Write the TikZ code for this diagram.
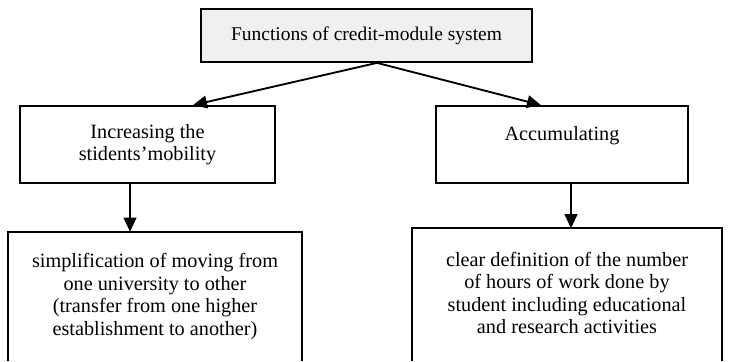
\documentclass[tikz,border=0pt]{standalone}
\usepackage{fontspec}
\setmainfont{Liberation Serif}
\usetikzlibrary{arrows.meta}
\begin{document}
\begin{tikzpicture}[x=0.75pt,y=-0.75pt,
  txt/.style={inner sep=0pt,align=center,font=\fontsize{15.2}{16.9}\selectfont},
  box/.style={txt,draw=black,line width=1.3pt},
  openbox/.style={txt,draw=none},
  side/.style={draw=black,line width=1.3pt},
  arr/.style={line width=1.4pt,-{Triangle[width=9.5pt,length=10.5pt]}}]
\fill[white] (0,0) rectangle (735,361);
\useasboundingbox (0,0) rectangle (735,361);
% boxes
\node[box,fill={rgb,255:red,240;green,240;blue,240},minimum width=248.25pt,minimum height=39.75pt,font=\fontsize{14.6}{16.9}\selectfont] (top) at (366.5,35.5) {Functions of credit-module system};
\node[box,minimum width=191.25pt,minimum height=57.75pt] (l1) at (147.5,144.5) {Increasing the\\stidents’mobility};
\node[box,minimum width=189pt,minimum height=57.75pt] (r1) at (562,144.5) {Accumulating\\\mbox{}};
\node[openbox,minimum width=220.5pt,minimum height=96.75pt] (bl) at (155,296.5) {simplification of moving from\\one university to other\\(transfer from one higher\\establishment to another)};
\node[openbox,minimum width=232.5pt,minimum height=96.75pt] (br) at (567,293) {clear definition of the number\\of hours of work done by\\student including educational\\and research activities};
\coordinate (brb) at (567,361);
\draw[side] (bl.south west) -- (bl.north west) -- (bl.north east) -- (bl.south east);
\draw[side] (br.west |- brb) -- (br.north west) -- (br.north east) -- (br.east |- brb);
% arrow guide coordinates
\coordinate (org) at (377,0);
\coordinate (tipL) at (193,0);
\coordinate (tipR) at (541,0);
\coordinate (vL) at (130,0);
\coordinate (vR) at (571,0);
% connectors
\draw[arr] (top.south -| org) -- (l1.north -| tipL);
\draw[arr] (top.south -| org) -- (r1.north -| tipR);
\draw[arr] (l1.south -| vL) -- (bl.north -| vL);
\draw[arr] (r1.south -| vR) -- (br.north -| vR);
\end{tikzpicture}
\end{document}
